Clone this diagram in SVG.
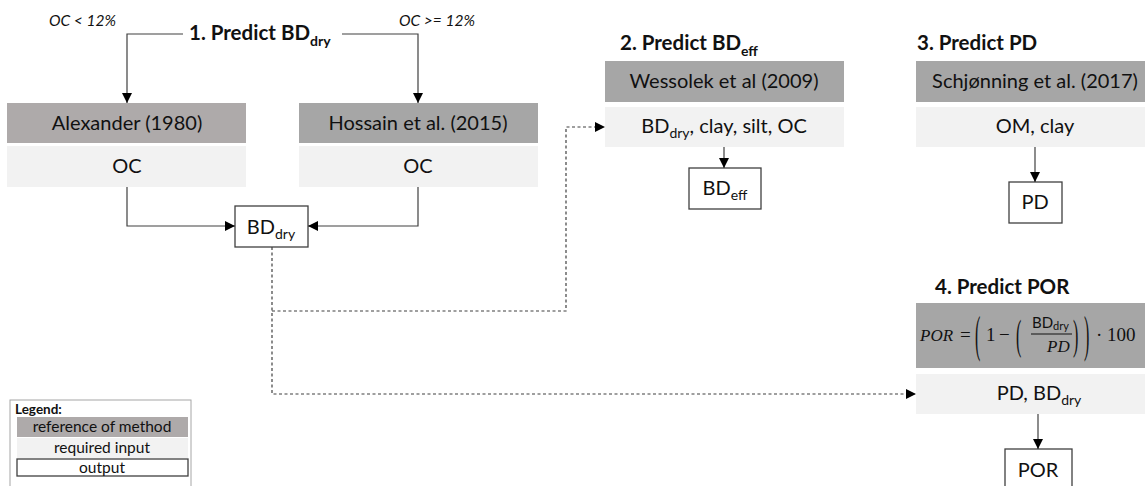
<svg xmlns="http://www.w3.org/2000/svg" width="1145" height="486" viewBox="0 0 1145 486">
  <defs>
    <marker id="arrow" viewBox="0 0 10 10" refX="10" refY="5" markerWidth="10" markerHeight="10" markerUnits="userSpaceOnUse" orient="auto">
      <path d="M0,0 L10,5 L0,10 z" fill="#000"/>
    </marker>
    <style>
      text { font-family: Lato, "Liberation Sans", sans-serif; fill: #111; }
      .ref { fill: #a6a6a6; }
      .ref-warm { fill: #aeaaaa; }
      .inp { fill: #f2f2f2; }
      .out { fill: #fff; stroke: #404040; stroke-width: 1.3; }
      .lbl { font-size: 20px; text-anchor: middle; }
      .title { font-size: 20.5px; font-weight: bold; }
      .cond { font-size: 15.5px; font-style: italic; }
      .sub { font-size: 14px; }
      .edge { fill: none; stroke: #404040; stroke-width: 1.2; marker-end: url(#arrow); }
      .dash { stroke-dasharray: 3 2.5; }
      .math { font-family: "Liberation Serif", "DejaVu Serif", serif; font-size: 19px; }
      .paren { font-family: "Liberation Serif", "DejaVu Serif", serif; font-size: 20px; }
      .it { font-style: italic; }
      .leg { font-size: 15.5px; text-anchor: middle; }
    </style>
  </defs>

  <!-- section headings -->
  <g id="headings">
    <text class="title" x="189" y="40">1. Predict BD<tspan class="sub" dy="6">dry</tspan></text>
    <text class="cond" x="49" y="26">OC &lt; 12%</text>
    <text class="cond" x="399" y="26">OC &gt;= 12%</text>
    <text class="title" x="620" y="50">2. Predict BD<tspan class="sub" dy="6">eff</tspan></text>
    <text class="title" x="917" y="50">3. Predict PD</text>
    <text class="title" x="935" y="294">4. Predict POR</text>
  </g>

  <!-- method 1a: Alexander -->
  <g id="alexander">
    <rect class="ref-warm" x="7" y="103" width="239" height="40"/>
    <text class="lbl" x="127" y="130">Alexander (1980)</text>
    <rect class="inp" x="7" y="146" width="239" height="41"/>
    <text class="lbl" x="127" y="173">OC</text>
  </g>

  <!-- method 1b: Hossain -->
  <g id="hossain">
    <rect class="ref" x="299" y="103" width="239" height="40"/>
    <text class="lbl" x="418" y="130">Hossain et al. (2015)</text>
    <rect class="inp" x="299" y="146" width="239" height="41"/>
    <text class="lbl" x="418" y="173">OC</text>
  </g>

  <g id="bd-dry">
    <rect class="out" x="235" y="206" width="73" height="41"/>
    <text class="lbl" x="271" y="234">BD<tspan class="sub" dy="5">dry</tspan></text>
  </g>

  <!-- method 2: Wessolek -->
  <g id="wessolek">
    <rect class="ref" x="605" y="61" width="239" height="41"/>
    <text class="lbl" x="724" y="88">Wessolek et al (2009)</text>
    <rect class="inp" x="605" y="107" width="239" height="40"/>
    <text class="lbl" x="724" y="133">BD<tspan class="sub" dy="5">dry</tspan><tspan dy="-5">, clay, silt, OC</tspan></text>
  </g>

  <g id="bd-eff">
    <rect class="out" x="689" y="168" width="72" height="41"/>
    <text class="lbl" x="725" y="195">BD<tspan class="sub" dy="5">eff</tspan></text>
  </g>

  <!-- method 3: Schjønning -->
  <g id="schjonning">
    <rect class="ref" x="916" y="61" width="239" height="41"/>
    <text class="lbl" x="1035" y="88">Schjønning et al. (2017)</text>
    <rect class="inp" x="916" y="107" width="239" height="40"/>
    <text class="lbl" x="1035" y="133">OM, clay</text>
  </g>

  <g id="pd">
    <rect class="out" x="1009" y="182" width="53" height="41"/>
    <text class="lbl" x="1035" y="209">PD</text>
  </g>

  <!-- method 4: porosity formula -->
  <g id="por-formula">
    <rect class="ref" x="916" y="303" width="239" height="65"/>
    <text class="math it" x="920" y="341" style="font-size:17px">POR</text>
    <text class="math" x="960" y="341">=</text>
    <text class="paren" transform="translate(975,351) scale(0.8,2.5)">(</text>
    <text class="math" x="986" y="341">1</text>
    <text class="math" x="999" y="341">−</text>
    <text class="paren" transform="translate(1016,349) scale(0.8,2.1)">(</text>
    <text x="1032" y="328" style="font-size:15px">BD<tspan style="font-size:11px" dy="2">dry</tspan></text>
    <line x1="1031" y1="334" x2="1072" y2="334" stroke="#111" stroke-width="1"/>
    <text class="math it" x="1047" y="352" style="font-size:17px">PD</text>
    <text class="paren" transform="translate(1073,349) scale(0.8,2.1)">)</text>
    <text class="paren" transform="translate(1084,351) scale(0.8,2.5)">)</text>
    <text class="math" x="1096" y="341">·</text>
    <text class="math" x="1107" y="341">100</text>
  </g>

  <g id="por-input">
    <rect class="inp" x="916" y="374" width="239" height="40"/>
    <text class="lbl" x="1039" y="400">PD, BD<tspan class="sub" dy="5">dry</tspan></text>
  </g>

  <g id="por">
    <rect class="out" x="1005" y="449" width="67" height="41"/>
    <text class="lbl" x="1038" y="477">POR</text>
  </g>

  <!-- connectors -->
  <g id="connectors">
    <path class="edge" d="M183,34 H127 V103"/>
    <path class="edge" d="M342,34 H418 V103"/>
    <path class="edge" d="M127,187 V226 H235"/>
    <path class="edge" d="M418,187 V226 H308"/>
    <path class="edge" d="M724,147 V168"/>
    <path class="edge" d="M1035,147 V182"/>
    <path class="edge" d="M1038,414 V449"/>
    <path class="edge dash" d="M272,247 V394 H916"/>
    <path class="edge dash" d="M272,311 H566 V127 H605"/>
  </g>

  <!-- legend -->
  <g id="legend">
    <rect x="10" y="400" width="181" height="90" fill="#fff" stroke="#a6a6a6" stroke-width="1"/>
    <text x="15" y="414" font-size="13.5" font-weight="bold">Legend:</text>
    <rect class="ref-warm" x="17" y="417" width="171" height="20"/>
    <text class="leg" x="102" y="432">reference of method</text>
    <rect class="inp" x="17" y="438" width="171" height="20"/>
    <text class="leg" x="102" y="453">required input</text>
    <rect class="out" x="17" y="459" width="171" height="17"/>
    <text class="leg" x="102" y="473">output</text>
  </g>
</svg>
